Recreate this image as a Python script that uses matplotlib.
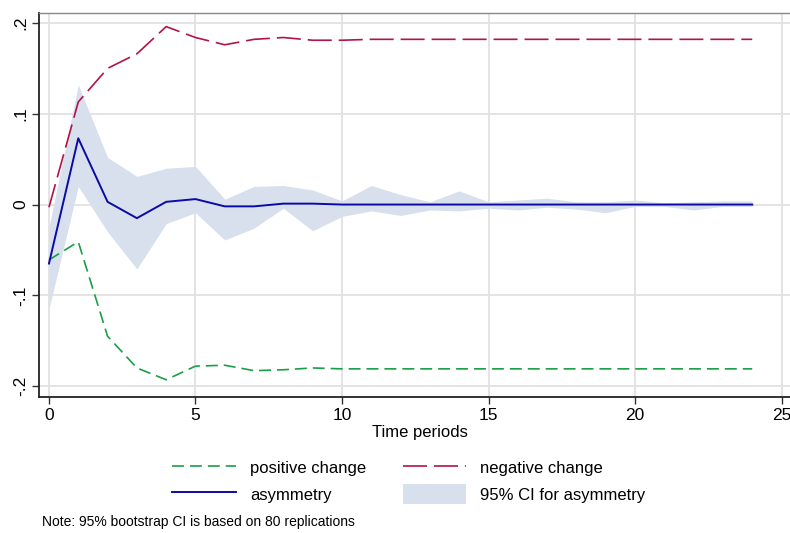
import matplotlib
matplotlib.use("Agg")
import matplotlib.pyplot as plt
from matplotlib.patches import Patch
from matplotlib.lines import Line2D

plt.rcParams['font.family'] = ['Liberation Sans Narrow', 'Liberation Sans', 'DejaVu Sans']
plt.rcParams['lines.scale_dashes'] = False

# horizon
periods = list(range(25))

# cumulative multipliers
positive_change = [-0.061, -0.041, -0.145, -0.180, -0.193, -0.178, -0.177, -0.183, -0.182,
                   -0.180, -0.181, -0.181, -0.181, -0.181, -0.181, -0.181, -0.181, -0.181,
                   -0.181, -0.181, -0.181, -0.181, -0.181, -0.181, -0.181]
negative_change = [-0.003, 0.113, 0.150, 0.166, 0.196, 0.184, 0.176, 0.182, 0.184,
                   0.181, 0.181, 0.182, 0.182, 0.182, 0.182, 0.182, 0.182, 0.182,
                   0.182, 0.182, 0.182, 0.182, 0.182, 0.182, 0.182]
asymmetry = [-0.065, 0.073, 0.003, -0.015, 0.003, 0.006, -0.002, -0.002, 0.001,
             0.001, 0.000, 0.000, 0.000, 0.000, 0.000, 0.000, 0.000, 0.000,
             0.000, 0.000, 0.000, 0.000, 0.000, 0.000, 0.000]
ci_upper = [-0.025, 0.132, 0.052, 0.031, 0.040, 0.042, 0.006, 0.020, 0.021,
            0.016, 0.004, 0.021, 0.011, 0.003, 0.015, 0.003, 0.005, 0.007,
            0.003, 0.003, 0.005, 0.002, 0.003, 0.004, 0.004]
ci_lower = [-0.115, 0.020, -0.030, -0.071, -0.021, -0.009, -0.039, -0.026, -0.004,
            -0.029, -0.013, -0.007, -0.012, -0.006, -0.007, -0.004, -0.006, -0.003,
            -0.005, -0.009, -0.002, -0.002, -0.006, -0.002, -0.002]

yticks = [-0.2, -0.1, 0, 0.1, 0.2]
ytick_labels = ['-.2', '-.1', '0', '.1', '.2']
xticks = [0, 5, 10, 15, 20, 25]

green = '#1a9e46'
red = '#b01448'
blue = '#0a0aa5'
band = '#d7e0ec'

fig = plt.figure(figsize=(7.9, 5.33), dpi=100)
W, H = 790, 533
ax = fig.add_axes([39 / W, 1 - 397 / H, (800 - 39) / W, (397 - 13) / H])

ax.fill_between(periods, ci_lower, ci_upper, color=band, linewidth=0, zorder=2)
ax.plot(periods, positive_change, color=green, lw=1.2, dashes=(8.6, 4.3), zorder=3)
ax.plot(periods, negative_change, color=red, lw=1.2, dashes=(17.3, 5.0), zorder=3)
ax.plot(periods, asymmetry, color=blue, lw=1.4, zorder=4)

ax.set_xlim(-0.34, 25.63)
ax.set_ylim(-0.212, 0.211)
ax.set_xticks(xticks)
ax.set_yticks(yticks)
ax.set_yticklabels(ytick_labels, rotation=90, va='center')
ax.tick_params(axis='both', labelsize=12.5, length=5, width=1, color='#333333', pad=3)
ax.grid(True, color='#e2e2e2', linewidth=1.3, zorder=1)
ax.set_axisbelow(True)

for s in ['left', 'bottom']:
    ax.spines[s].set_color('#222222')
    ax.spines[s].set_linewidth(1.3)
ax.spines['top'].set_color('#888888')
ax.spines['top'].set_linewidth(1.0)
ax.spines['right'].set_visible(False)

ax.set_xlabel('Time periods', fontsize=12, labelpad=1)

handles = [Line2D([], [], color=green, lw=1.2, dashes=(8.6, 4.3)),
           Line2D([], [], color=blue, lw=1.4),
           Line2D([], [], color=red, lw=1.2, dashes=(17.3, 5.0)),
           Patch(facecolor=band, edgecolor='none')]
labels = ['positive change', 'asymmetry', 'negative change', '95% CI for asymmetry']
fig.legend(handles, labels, ncol=2, loc='center', bbox_to_anchor=(409 / W, 1 - 481 / H),
           frameon=False, fontsize=12, handlelength=3.8, handleheight=1.5,
           columnspacing=2.2, handletextpad=0.85, labelspacing=0.35)

fig.text(42 / W, 1 - 522 / H, 'Note: 95% bootstrap CI is based on 80 replications',
         fontsize=10, va='center', ha='left')

plt.savefig('out.png', dpi=100)
